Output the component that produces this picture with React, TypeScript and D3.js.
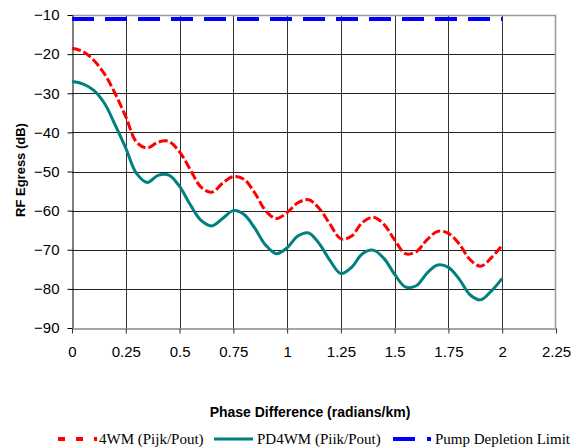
import React, { useEffect, useRef } from "react";
import * as d3 from "d3";

const phase = [
  0, 0.05, 0.1, 0.15, 0.2, 0.25, 0.3, 0.35, 0.4, 0.45, 0.5, 0.55, 0.6, 0.65, 0.7, 0.75, 0.8, 0.85, 0.9, 0.95,
  1, 1.05, 1.1, 1.15, 1.2, 1.25, 1.3, 1.35, 1.4, 1.45, 1.5, 1.55, 1.6, 1.65, 1.7, 1.75, 1.8, 1.85, 1.9, 1.95, 2,
];
const fwm = [
  -18.5, -19.3, -21.5, -25, -30, -36, -42.5, -44, -42.5, -42.3, -45, -49.5, -54, -55.3, -53, -51.3, -52, -55.5, -60, -62,
  -60.5, -58, -57.2, -59.5, -63.5, -67.2, -66.5, -63, -61.7, -63.5, -67.5, -71, -70.5, -67.5, -65.3, -65.8, -68.5, -72.5,
  -74.2, -72, -68.8,
];
const pd4wm = [
  -27, -27.6, -29.2, -32.5, -38, -44, -50.5, -52.8, -51, -50.9, -53.8, -58.5, -62.5, -63.9, -62, -60, -61, -64.5, -68.8,
  -71, -69.5, -66.5, -65.7, -68.5, -72.8, -76.1, -74.5, -71, -70.1, -72.2, -76.3, -79.5, -79.2, -76, -73.9, -74.5, -77.5,
  -81.5, -82.8, -80.5, -77.3,
];
const pumpX = [0, 2];
const pumpY = [-11, -11];

const xTicks = [0, 0.25, 0.5, 0.75, 1, 1.25, 1.5, 1.75, 2, 2.25];
const yTicks = [-90, -80, -70, -60, -50, -40, -30, -20, -10];

const seriesNames = ["4WM (Pijk/Pout)", "PD4WM (Piik/Pout)", "Pump Depletion Limit"];

const W = 580;
const H = 448;
const left = 72, right = 556, top = 15, bottom = 328;
const sans = "'Liberation Sans', Arial, sans-serif";
const serif = "'Liberation Serif', 'Times New Roman', serif";

export default function App() {
  const ref = useRef<SVGSVGElement>(null);

  useEffect(() => {
    const svg = d3.select(ref.current);
    svg.selectAll("*").remove();

    const x = d3.scaleLinear().domain([0, 2.25]).range([left, right]);
    const y = d3.scaleLinear().domain([-90, -10]).range([bottom, top]);

    // grid
    const grid = svg.append("g");
    grid.selectAll("line.h")
      .data(yTicks.slice(1, -1))
      .enter()
      .append("line")
      .attr("x1", left).attr("x2", right)
      .attr("y1", (d) => Math.round(y(d)) + 0.5).attr("y2", (d) => Math.round(y(d)) + 0.5)
      .attr("stroke", "#222");
    grid.selectAll("line.v")
      .data(xTicks.slice(1, -1))
      .enter()
      .append("line")
      .attr("y1", top).attr("y2", bottom)
      .attr("x1", (d) => Math.round(x(d)) + 0.5).attr("x2", (d) => Math.round(x(d)) + 0.5)
      .attr("stroke", "#333");

    // top and right border
    svg.append("path")
      .attr("d", `M${left},${top + 0.5}H${right - 0.5}V${bottom}`)
      .attr("fill", "none")
      .attr("stroke", "#999")
      .attr("stroke-width", 1.5);

    // axes
    const yAxis = svg.append("g")
      .attr("transform", `translate(${left + 0.5},0)`)
      .call(d3.axisLeft(y).tickValues(yTicks).tickSize(5).tickPadding(8).tickSizeOuter(0));
    yAxis.select(".domain").attr("stroke", "#000");
    yAxis.selectAll("line").attr("stroke", "#000");
    yAxis.selectAll("text").attr("font-family", sans).attr("font-size", 15).attr("fill", "#000");

    const xAxis = svg.append("g")
      .attr("transform", `translate(0,${bottom + 0.5})`)
      .call(d3.axisBottom(x).tickValues(xTicks).tickSize(5).tickPadding(13).tickSizeOuter(0)
        .tickFormat((d) => String(d)));
    xAxis.select(".domain").attr("stroke", "#888").attr("stroke-width", 1.5);
    xAxis.selectAll("line").attr("stroke", "#333");
    xAxis.selectAll("text").attr("font-family", sans).attr("font-size", 15).attr("fill", "#000");

    // lines
    const line = d3.line<[number, number]>()
      .x((d) => x(d[0]))
      .y((d) => y(d[1]))
      .curve(d3.curveCatmullRom);

    svg.append("path")
      .datum(pumpX.map((v, i) => [v, pumpY[i]] as [number, number]))
      .attr("d", d3.line<[number, number]>().x((d) => x(d[0])).y((d) => y(d[1])))
      .attr("fill", "none")
      .attr("stroke", "#0000ff")
      .attr("stroke-width", 4)
      .attr("stroke-dasharray", "22,11");

    svg.append("path")
      .datum(phase.map((v, i) => [v, pd4wm[i]] as [number, number]))
      .attr("d", line)
      .attr("fill", "none")
      .attr("stroke", "#008080")
      .attr("stroke-width", 3);

    svg.append("path")
      .datum(phase.map((v, i) => [v, fwm[i]] as [number, number]))
      .attr("d", line)
      .attr("fill", "none")
      .attr("stroke", "#ff0000")
      .attr("stroke-width", 3)
      .attr("stroke-dasharray", "9,3");

    // axis titles
    svg.append("text")
      .attr("transform", `translate(25,170) rotate(-90)`)
      .attr("text-anchor", "middle")
      .attr("font-family", sans)
      .attr("font-weight", "bold")
      .attr("font-size", 13)
      .text("RF Egress (dB)");

    svg.append("text")
      .attr("x", 310)
      .attr("y", 417)
      .attr("text-anchor", "middle")
      .attr("font-family", sans)
      .attr("font-weight", "bold")
      .attr("font-size", 14)
      .text("Phase Difference (radians/km)");

    // legend
    const legY = 439;
    const leg = svg.append("g");
    leg.append("line")
      .attr("x1", 58).attr("x2", 97).attr("y1", legY).attr("y2", legY)
      .attr("stroke", "#ff0000").attr("stroke-width", 4).attr("stroke-dasharray", "7,11");
    leg.append("line")
      .attr("x1", 214).attr("x2", 253).attr("y1", legY).attr("y2", legY)
      .attr("stroke", "#008080").attr("stroke-width", 3);
    leg.append("line")
      .attr("x1", 393).attr("x2", 431).attr("y1", legY).attr("y2", legY)
      .attr("stroke", "#0000ff").attr("stroke-width", 4).attr("stroke-dasharray", "22,12");
    const legText = [
      { x: 99, t: seriesNames[0] },
      { x: 257, t: seriesNames[1] },
      { x: 435, t: seriesNames[2] },
    ];
    leg.selectAll("text")
      .data(legText)
      .enter()
      .append("text")
      .attr("x", (d) => d.x)
      .attr("y", 444)
      .attr("font-family", serif)
      .attr("font-size", 15)
      .attr("fill", "#000")
      .text((d) => d.t);
  }, []);

  return (
    <svg
      ref={ref}
      width={W}
      height={H}
      style={{ position: "absolute", left: 0, top: 0, background: "#fff" }}
    />
  );
}
